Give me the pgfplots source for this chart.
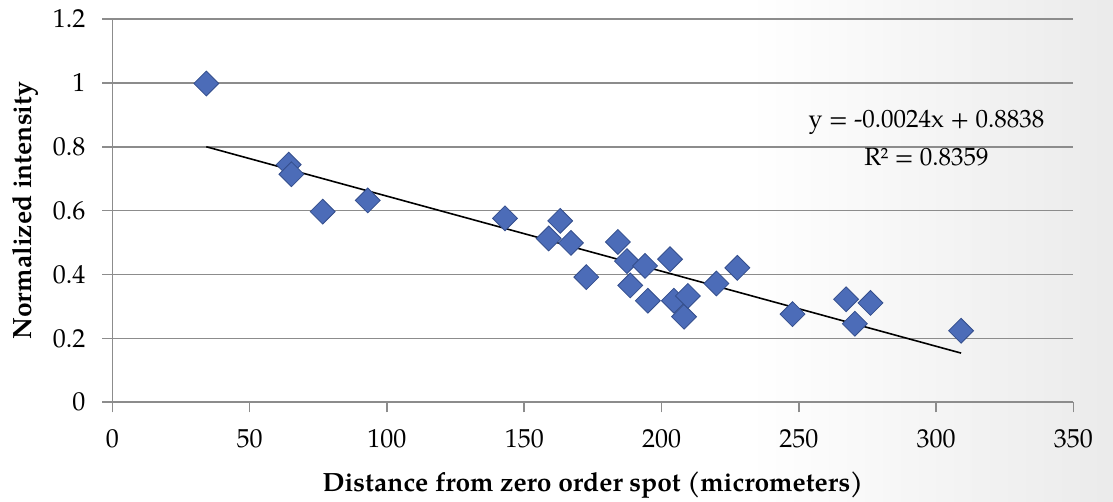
\documentclass[border=0pt]{standalone}
\usepackage{pgfplots}
\pgfplotsset{compat=1.18}
\usepackage{fontspec}
\setmainfont{TeX Gyre Pagella}
\definecolor{markblue}{RGB}{76,108,184}
\definecolor{markedge}{RGB}{52,78,140}
\definecolor{gridgray}{RGB}{140,140,140}

\begin{document}
\begin{tikzpicture}
% page size: 1113x502 px at 0.5pt per px, plot origin at (112.4,402.3) px
\path[use as bounding box] (-56.2pt,-49.85pt) rectangle (500.3pt,201.15pt);
\shade[left color=white, right color=black!8, draw=none]
    (318pt,-49.85pt) rectangle (500.3pt,201.15pt);
\begin{axis}[
    scale only axis,
    width=480.5pt, height=191.65pt,
    xmin=0, xmax=350, ymin=0, ymax=1.2,
    xtick={0,50,...,350},
    ytick={0,0.2,...,1.2},
    axis x line=bottom, axis y line=left,
    axis line style={gridgray, line width=0.8pt, -},
    tick align=outside,
    major tick length=5pt,
    tick style={gridgray, line width=0.8pt},
    ymajorgrids,
    grid style={gridgray, line width=0.8pt},
    /pgf/number format/assume math mode=true,
    /pgf/number format/fixed,
    tick label style={font=\fontsize{13}{15}\selectfont},
    xticklabel style={yshift=-5pt},
    yticklabel style={xshift=-5pt},
    xlabel={\textbf{Distance from zero order spot (micrometers)}},
    ylabel={\textbf{Normalized intensity}},
    label style={font=\fontsize{13.2}{15}\selectfont},
    xlabel style={at={(axis description cs:0.5,-0.2158)}, anchor=center},
    ylabel style={at={(axis description cs:-0.0909,0.5)}, anchor=center},
    clip=false,
]
\addplot[only marks, mark=square*, mark size=4.4pt,
    mark options={rotate=45, fill=markblue, draw=markedge, line width=0.4pt}]
coordinates {
    (34.2,0.998) (64.2,0.744) (65.2,0.714) (76.6,0.597) (93.0,0.632)
    (143.0,0.576) (158.9,0.513) (163.1,0.568) (167.0,0.499) (172.6,0.392)
    (184.1,0.502) (187.4,0.442) (188.6,0.366) (194.0,0.427) (195.0,0.318)
    (203.1,0.448) (204.5,0.318) (208.2,0.268) (209.6,0.333) (220.0,0.372)
    (227.6,0.421) (247.7,0.276) (267.2,0.3225) (270.4,0.246) (276.1,0.311)
    (309.1,0.224)
};
\addplot[black, line width=0.8pt] coordinates {(34.2,0.800) (309.1,0.154)};
\node[font=\fontsize{12.5}{14}\selectfont] at (axis cs:296.5,0.877) {y = -0.0024x + 0.8838};
\node[font=\fontsize{12.5}{14}\selectfont] at (axis cs:296.5,0.767) {R² = 0.8359};
\end{axis}
\end{tikzpicture}
\end{document}
